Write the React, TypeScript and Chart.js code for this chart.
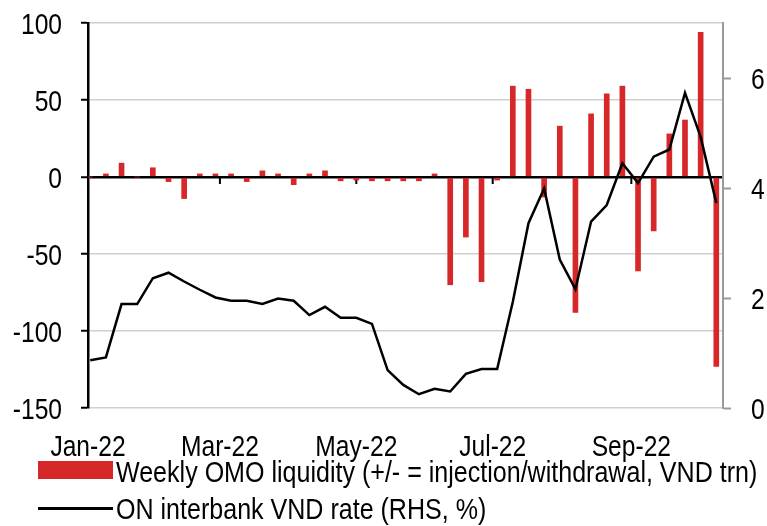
import React, { useEffect, useRef } from 'react';
import { Chart, registerables } from 'chart.js';

Chart.register(...registerables);

// ---- data ----
const weekDates = [
  '2022-01-02', '2022-01-09', '2022-01-16', '2022-01-23', '2022-01-30',
  '2022-02-06', '2022-02-13', '2022-02-20', '2022-02-27',
  '2022-03-06', '2022-03-13', '2022-03-20', '2022-03-27',
  '2022-04-03', '2022-04-10', '2022-04-17', '2022-04-24',
  '2022-05-01', '2022-05-08', '2022-05-15', '2022-05-22', '2022-05-29',
  '2022-06-05', '2022-06-12', '2022-06-19', '2022-06-26',
  '2022-07-03', '2022-07-10', '2022-07-17', '2022-07-24', '2022-07-31',
  '2022-08-07', '2022-08-14', '2022-08-21', '2022-08-28',
  '2022-09-04', '2022-09-11', '2022-09-18', '2022-09-25',
  '2022-10-02', '2022-10-09',
];

const omoLiquidity = [
  0, 2, 9, 0, 6, -3, -14, 2, 2, 2, -3, 4, 2, -5, 2, 4, -2.5, -2, -2.5, -2.5,
  -2.5, -2.5, 2, -70, -39, -68, -2, 59, 57, -13, 33, -88, 41, 54, 59, -61,
  -35, 28, 37, 94, -123,
];

const interbankRate = [
  0.87, 0.92, 1.89, 1.89, 2.36, 2.46, 2.3, 2.15, 2.01, 1.95, 1.95, 1.89, 1.99,
  1.95, 1.69, 1.84, 1.64, 1.64, 1.53, 0.69, 0.42, 0.25, 0.35, 0.3, 0.62, 0.71,
  0.71, 1.93, 3.36, 3.99, 2.7, 2.16, 3.39, 3.69, 4.45, 4.09, 4.57, 4.7, 5.73,
  4.93, 3.73,
];

const monthTickDates = ['2022-01-01', '2022-03-01', '2022-05-01', '2022-07-01', '2022-09-01'];
const monthTickLabels = ['Jan-22', 'Mar-22', 'May-22', 'Jul-22', 'Sep-22'];
const axisStartDate = '2022-01-01';
const axisEndDate = '2022-10-12';

const leftTicks = [-150, -100, -50, 0, 50, 100];
const rightTicks = [0, 2, 4, 6];

const legendLabels = [
  'Weekly OMO liquidity (+/- = injection/withdrawal, VND trn)',
  'ON interbank VND rate (RHS, %)',
];

// ---- helpers ----
const dayNum = (s: string) => {
  const [y, m, d] = s.split('-').map(Number);
  return (Date.UTC(y, m - 1, d) - Date.UTC(2022, 0, 1)) / 86400000;
};

const FONT = "'Liberation Sans', Arial, sans-serif";
const FONT_SIZE = 30;
const SX = 0.82; // narrow (condensed) look for tick labels
const SX_LEGEND = 0.835;
const RED = 'rgb(214, 40, 40)';

export default function App() {
  const ref = useRef<HTMLCanvasElement | null>(null);

  useEffect(() => {
    if (!ref.current) return;
    const xs = weekDates.map(dayNum);
    const monthDays = monthTickDates.map(dayNum);

    const zeroTicks = {
      id: 'zeroTicks',
      beforeDatasetsDraw(chart: any) {
        const { ctx } = chart;
        const x = chart.scales.x;
        const y = chart.scales.y;
        const y0 = y.getPixelForValue(0);
        ctx.save();
        ctx.strokeStyle = '#000';
        ctx.lineWidth = 2;
        monthDays.slice(1).forEach((d) => {
          const px = x.getPixelForValue(d);
          ctx.beginPath();
          ctx.moveTo(px, y0);
          ctx.lineTo(px, y0 + 7);
          ctx.stroke();
        });
        ctx.restore();
      },
    };

    const narrowLabels = {
      id: 'narrowLabels',
      afterDraw(chart: any) {
        const { ctx } = chart;
        const put = (text: string, x: number, y: number, align: CanvasTextAlign) => {
          ctx.save();
          ctx.translate(x, y);
          ctx.scale(SX, 1);
          ctx.font = `${FONT_SIZE}px ${FONT}`;
          ctx.fillStyle = '#000';
          ctx.textAlign = align;
          ctx.textBaseline = 'alphabetic';
          ctx.fillText(text, 0, 0);
          ctx.restore();
        };
        const capHalf = FONT_SIZE * 0.358;
        const yl = chart.scales.y;
        yl.ticks.forEach((t: any) => put(String(t.value), yl.right - 26, yl.getPixelForValue(t.value) + capHalf, 'right'));
        const yr = chart.scales.y1;
        yr.ticks.forEach((t: any) => put(String(t.value), yr.left + 28, yr.getPixelForValue(t.value) + capHalf, 'left'));
        const xsc = chart.scales.x;
        xsc.ticks.forEach((t: any, i: number) => put(monthTickLabels[i], xsc.getPixelForValue(t.value), xsc.top + 48, 'center'));
      },
    };

    const chart = new Chart(ref.current, {
      type: 'bar',
      data: {
        datasets: [
          {
            type: 'line',
            label: legendLabels[1],
            data: xs.map((x, i) => ({ x, y: interbankRate[i] })),
            yAxisID: 'y1',
            borderColor: '#000',
            borderWidth: 2.5,
            pointRadius: 0,
            tension: 0,
            order: 0,
          } as any,
          {
            type: 'bar',
            label: legendLabels[0],
            data: xs.map((x, i) => ({ x, y: omoLiquidity[i] })),
            yAxisID: 'y',
            backgroundColor: RED,
            barThickness: 5,
            order: 1,
          } as any,
        ],
      },
      options: {
        responsive: false,
        animation: false,
        layout: { padding: { top: 23, left: 0, right: 0, bottom: 0 } },
        plugins: { legend: { display: false }, tooltip: { enabled: false } },
        scales: {
          x: {
            type: 'linear',
            min: dayNum(axisStartDate),
            max: dayNum(axisEndDate),
            offset: false,
            grid: { display: false, offset: false, drawTicks: false },
            border: { display: false },
            afterBuildTicks: (s: any) => {
              s.ticks = monthDays.map((v) => ({ value: v }));
            },
            afterFit: (s: any) => {
              s.height = 118;
              s.paddingLeft = 0;
              s.paddingRight = 0;
            },
            ticks: { display: false, autoSkip: false },
          },
          y: {
            type: 'linear',
            position: 'left',
            min: -150,
            max: 100,
            afterBuildTicks: (s: any) => {
              s.ticks = leftTicks.map((v) => ({ value: v }));
            },
            afterFit: (s: any) => {
              s.width = 88;
              s.paddingTop = 0;
              s.paddingBottom = 0;
            },
            grid: {
              color: (c: any) => (c.tick && c.tick.value === 0 ? '#000' : '#cfcfcf'),
              lineWidth: (c: any) => (c.tick && c.tick.value === 0 ? 2.5 : 1.5),
              tickColor: '#000',
              tickLength: 7,
              tickWidth: 2,
            },
            border: { color: '#000', width: 2.5 },
            ticks: { display: false },
          },
          y1: {
            type: 'linear',
            position: 'right',
            min: 0,
            max: 7,
            afterBuildTicks: (s: any) => {
              s.ticks = rightTicks.map((v) => ({ value: v }));
            },
            afterFit: (s: any) => {
              s.width = 44;
              s.paddingTop = 0;
              s.paddingBottom = 0;
            },
            grid: {
              drawOnChartArea: false,
              tickColor: '#9a9a9a',
              tickLength: 8,
              tickWidth: 2,
            },
            border: { color: '#9a9a9a', width: 2 },
            ticks: { display: false },
          },
        },
      } as any,
      plugins: [zeroTicks, narrowLabels],
    });

    return () => chart.destroy();
  }, []);

  const textStyle: React.CSSProperties = {
    display: 'inline-block',
    transform: `scaleX(${SX_LEGEND})`,
    transformOrigin: 'left center',
  };

  return (
    <div style={{ position: 'fixed', left: 0, top: 0, width: 767, height: 526, background: '#fff', overflow: 'hidden' }}>
      <canvas ref={ref} width={767} height={526} style={{ position: 'absolute', left: 0, top: 0 }} />
      <div style={{ position: 'absolute', left: 38, top: 461, width: 75, height: 18, background: RED }} />
      <div style={{ position: 'absolute', left: 38, top: 507, width: 75, height: 2.5, background: '#000' }} />
      <div style={{ position: 'absolute', left: 116, top: 454, fontFamily: FONT, fontSize: FONT_SIZE, lineHeight: '36px', color: '#000', whiteSpace: 'nowrap' }}>
        <span style={textStyle}>{legendLabels[0]}</span>
      </div>
      <div style={{ position: 'absolute', left: 116, top: 491, fontFamily: FONT, fontSize: FONT_SIZE, lineHeight: '36px', color: '#000', whiteSpace: 'nowrap' }}>
        <span style={textStyle}>{legendLabels[1]}</span>
      </div>
    </div>
  );
}
